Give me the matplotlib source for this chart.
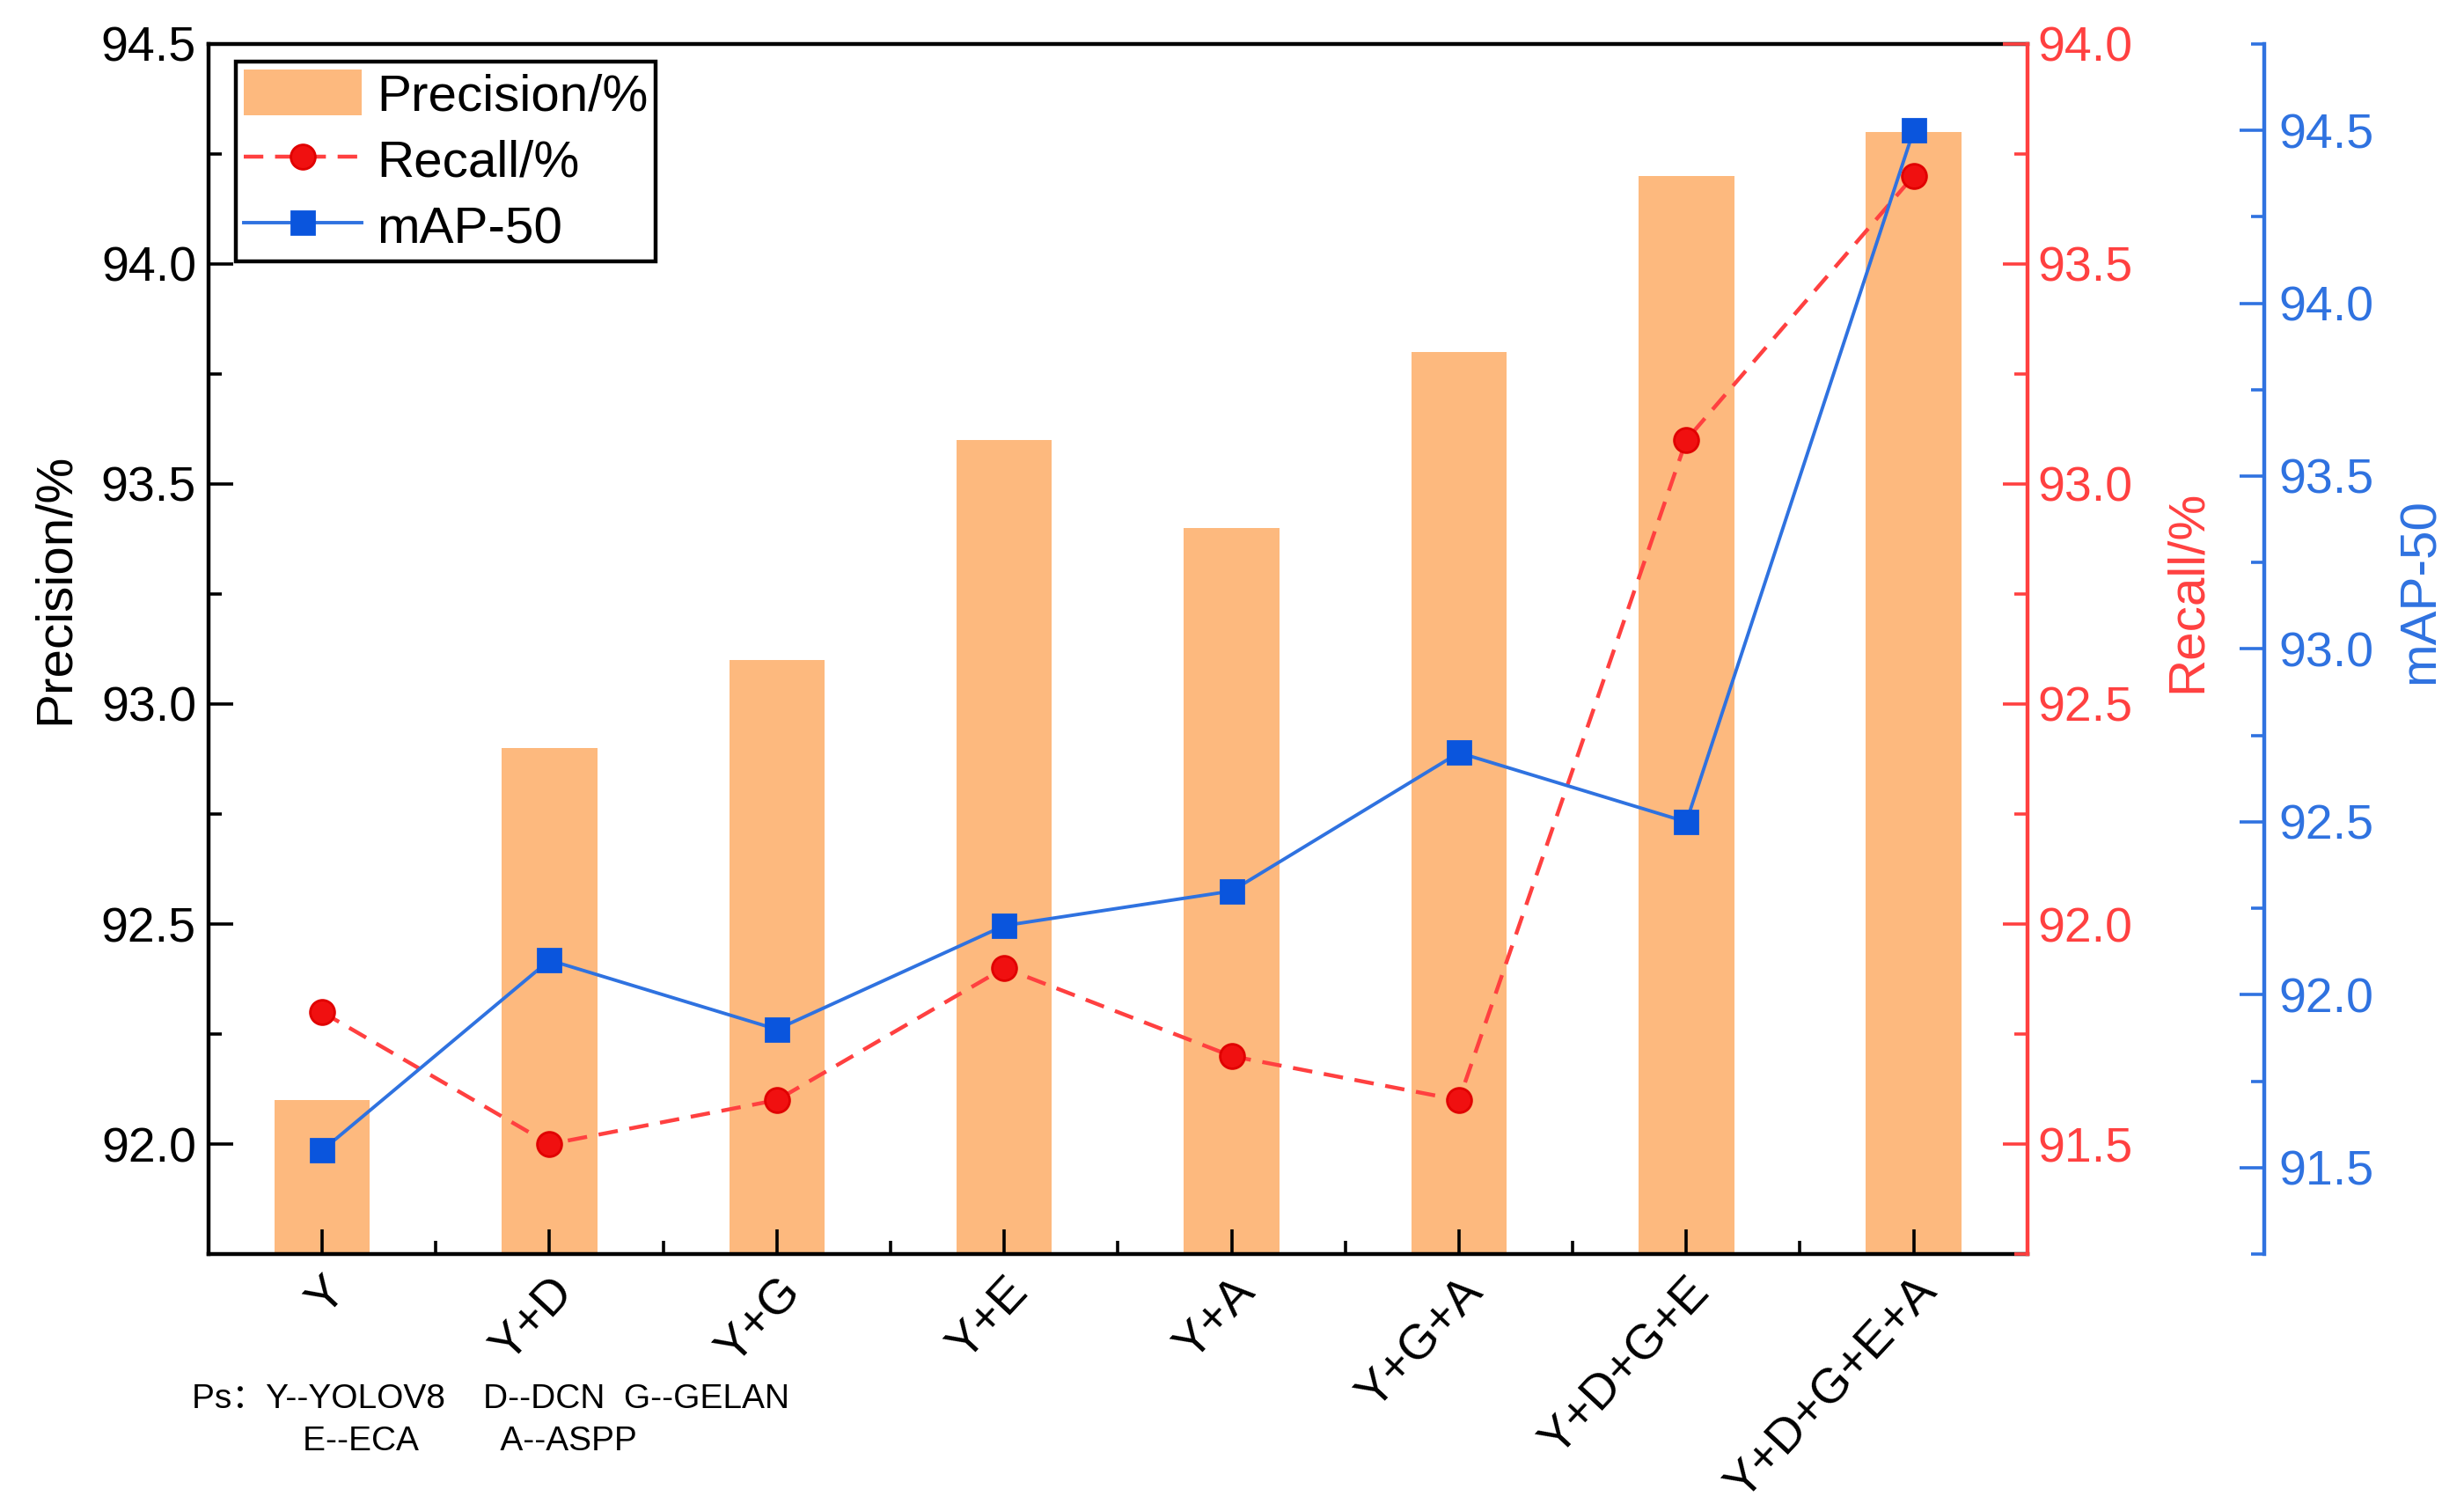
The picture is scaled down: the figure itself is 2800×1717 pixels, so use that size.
import numpy as np
import matplotlib
matplotlib.use('Agg')
import matplotlib.pyplot as plt
from matplotlib.ticker import MultipleLocator
from matplotlib.patches import Patch
from matplotlib.lines import Line2D

plt.rcParams['font.family'] = ['Liberation Sans', 'Noto Sans CJK SC', 'DejaVu Sans']

categories = ['Y', 'Y+D', 'Y+G', 'Y+E', 'Y+A', 'Y+G+A', 'Y+D+G+E', 'Y+D+G+E+A']
precision = [92.1, 92.9, 93.1, 93.6, 93.4, 93.8, 94.2, 94.3]
recall = [91.8, 91.5, 91.6, 91.9, 91.7, 91.6, 93.1, 93.7]
map50 = [91.55, 92.1, 91.9, 92.2, 92.3, 92.7, 92.5, 94.5]

bar_color = '#FDB97E'
red = '#FF4040'
blue = '#2F72E0'

fig = plt.figure(figsize=(14, 8.585), dpi=200)
ax = fig.add_axes([0.0846, 0.170, 0.7382, 0.801])
x = np.arange(len(categories))

ax.bar(x, precision, width=0.42, color=bar_color, zorder=1)
ax.set_xlim(-0.5, 7.5)
ax.set_ylim(91.75, 94.5)
ax.yaxis.set_major_locator(MultipleLocator(0.5))
ax.yaxis.set_minor_locator(MultipleLocator(0.25))
ax.set_xticks(x)
ax.set_xticks(x[:-1] + 0.5, minor=True)
ax.set_xticklabels(categories, rotation=47, ha='right', va='top',
                   rotation_mode='anchor', fontsize=20)
ax.tick_params(axis='both', which='major', direction='in', length=10, width=1.3,
               labelsize=20, pad=5)
ax.tick_params(axis='x', which='major', labelsize=20, pad=6)
ax.tick_params(axis='both', which='minor', direction='in', length=5.5, width=1.3)
ax.tick_params(axis='y', right=False)
ax.set_ylabel('Precision/%', fontsize=21)
ax.yaxis.set_label_coords(-0.0844, 0.55)
ax.yaxis.label.set_va('center')
for s in ['left', 'bottom', 'top']:
    ax.spines[s].set_linewidth(1.6)
ax.spines['right'].set_visible(False)

# recall axis
ax2 = ax.twinx()
ax2.plot(x, recall, linestyle=(0, (5, 3)), color=red, lw=1.6,
         marker='o', markersize=10, markerfacecolor='#F01010',
         markeredgecolor='#E00000', zorder=3)
ax2.set_ylim(91.25, 94.0)
ax2.yaxis.set_major_locator(MultipleLocator(0.5))
ax2.yaxis.set_minor_locator(MultipleLocator(0.25))
ax2.tick_params(axis='y', which='major', direction='in', length=10, width=1.3,
                colors=red, labelsize=20, pad=4)
ax2.tick_params(axis='y', which='minor', direction='in', length=5.5, width=1.3,
                colors=red)
ax2.spines['right'].set_color(red)
ax2.spines['right'].set_linewidth(1.6)
for s in ['left', 'top', 'bottom']:
    ax2.spines[s].set_visible(False)
ax2.set_ylabel('Recall/%', fontsize=21, color=red)
ax2.yaxis.set_label_coords(1.088, 0.548)
ax2.yaxis.label.set_va('center')

# mAP axis
ax3 = ax.twinx()
ax3.spines['right'].set_position(('axes', 1.13))
ax3.plot(x, map50, linestyle='-', color=blue, lw=1.4,
         marker='s', markersize=9.5, markerfacecolor='#0A55DD',
         markeredgecolor='#0A55DD', zorder=3)
ax3.set_ylim(91.25, 94.75)
ax3.yaxis.set_major_locator(MultipleLocator(0.5))
ax3.yaxis.set_minor_locator(MultipleLocator(0.25))
ax3.tick_params(axis='y', which='major', direction='in', length=10, width=1.3,
                colors=blue, labelsize=20, pad=6)
ax3.tick_params(axis='y', which='minor', direction='in', length=5.5, width=1.3,
                colors=blue)
ax3.spines['right'].set_color(blue)
ax3.spines['right'].set_linewidth(1.6)
for s in ['left', 'top', 'bottom']:
    ax3.spines[s].set_visible(False)
ax3.set_ylabel('mAP-50', fontsize=21, color=blue)
ax3.yaxis.set_label_coords(1.216, 0.548)
ax3.yaxis.label.set_va('center')

handles = [
    Patch(facecolor=bar_color, edgecolor='none'),
    Line2D([], [], linestyle=(0, (5, 3)), color=red, lw=1.6, marker='o',
           markersize=10, markerfacecolor='#F01010', markeredgecolor='#E00000'),
    Line2D([], [], linestyle='-', color=blue, lw=1.4, marker='s',
           markersize=9.5, markerfacecolor='#0A55DD', markeredgecolor='#0A55DD'),
]
leg = ax3.legend(handles, ['Precision/%', 'Recall/%', 'mAP-50'],
                 loc='upper left', bbox_to_anchor=(0.015, 0.985),
                 borderaxespad=0, fontsize=21, fancybox=False, framealpha=1,
                 edgecolor='black', handlelength=2.3, handleheight=1.0,
                 handletextpad=0.3, labelspacing=0.3, borderpad=0.15)
leg.get_frame().set_linewidth(1.6)

fig.text(0.078, 0.068, 'Ps：Y--YOLOV8    D--DCN  G--GELAN', fontsize=14)
fig.text(0.123, 0.040, 'E--ECA         A--ASPP', fontsize=14)

fig.savefig('out.png', dpi=200)
